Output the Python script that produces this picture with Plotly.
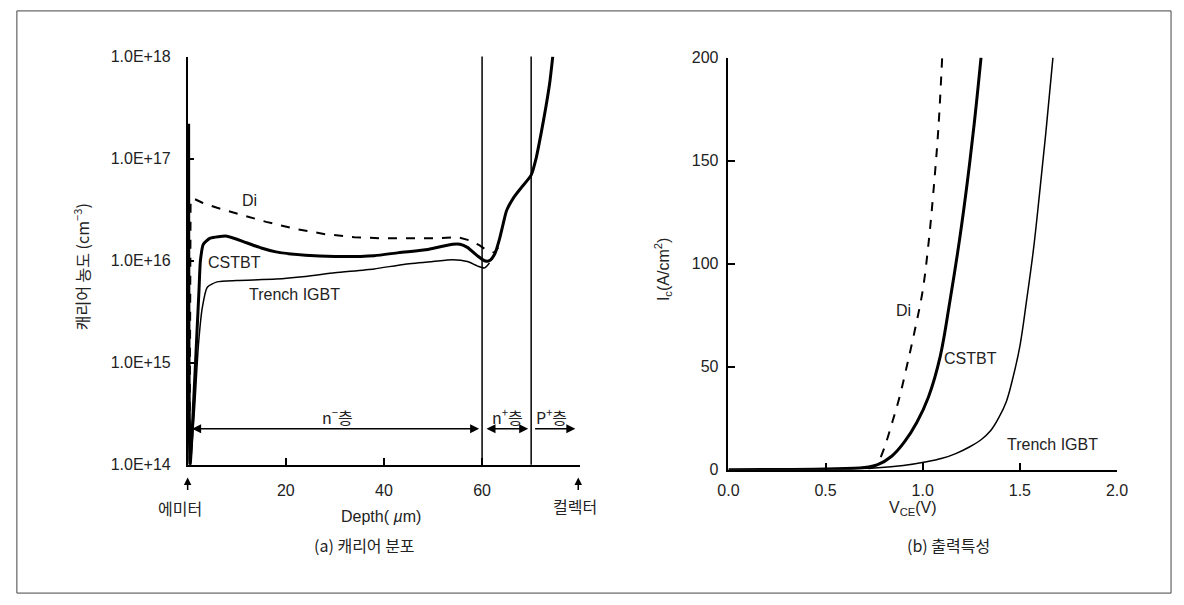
import plotly.graph_objects as go

W, H = 1184, 605
def px(x): return x / W
def py(y): return 1 - y / H

# ---- (a) carrier distribution data ----
depth_cstbt = [0.2, 0.5, 1.3, 1.9, 2.3, 2.6, 3.2, 4.6, 8, 12, 15, 18, 24, 30, 38, 43, 49, 54, 55.5, 57, 59, 60.5,
               61.5, 62.6, 63.5, 64.3, 65, 66.5, 68, 70, 71, 72, 73, 73.8, 74.4]
conc_cstbt = [2.2e17, 1.0e14, 5e14, 2e15, 5e15, 1.0e16, 1.45e16, 1.66e16, 1.74e16, 1.5e16, 1.33e16, 1.22e16,
              1.13e16, 1.1e16, 1.12e16, 1.2e16, 1.29e16, 1.45e16, 1.45e16, 1.35e16, 1.12e16, 1.0e16,
              1.0e16, 1.17e16, 1.6e16, 2.3e16, 3.1e16, 4.2e16, 5.2e16, 6.9e16, 1.0e17, 1.74e17, 3.2e17,
              5.6e17, 1.0e18]

depth_trench = [0.6, 1.4, 2.2, 3.0, 4.0, 6, 10, 18, 24, 30, 38, 44, 50, 54, 57, 59, 60.5, 61.5]
conc_trench = [1e14, 3.5e14, 1.5e15, 3.5e15, 5.5e15, 6.2e15, 6.4e15, 6.6e15, 7.0e15, 7.6e15, 8.3e15, 9.2e15,
               9.8e15, 1.02e16, 9.8e15, 8.9e15, 8.5e15, 9.5e15]

depth_di = [0.4, 0.6, 1.5, 3, 6, 10, 16, 22, 28, 34, 39, 45, 51, 55, 57.5, 59.5, 61, 62.5, 63.3]
conc_di = [1e14, 4e16, 4e16, 3.7e16, 3.3e16, 2.9e16, 2.4e16, 2.05e16, 1.82e16, 1.7e16, 1.66e16, 1.66e16,
           1.66e16, 1.7e16, 1.58e16, 1.41e16, 1.26e16, 1.2e16, 1.35e16]

conc_ticks = [1e14, 1e15, 1e16, 1e17, 1e18]
conc_ticktext = ["1.0E+14", "1.0E+15", "1.0E+16", "1.0E+17", "1.0E+18"]
depth_ticks = [20, 40, 60]
layer_bounds = [60, 70]

# ---- (b) output characteristics data ----
v_di = [0.72, 0.75, 0.77, 0.8, 0.84, 0.88, 0.92, 0.96, 1.0, 1.03, 1.055, 1.08, 1.10]
i_di = [0.5, 1.5, 3.5, 10, 22, 35, 51, 68, 87, 110, 135, 165, 200]

v_cstbt = [0, 0.5, 0.7, 0.768, 0.84, 0.904, 0.97, 1.03, 1.09, 1.141, 1.19, 1.23, 1.265, 1.30]
i_cstbt = [0, 0.3, 1, 2.4, 6.5, 13.2, 23, 35.4, 55, 82.5, 112, 140, 168, 200]

v_trench = [0, 0.5, 0.77, 0.9, 1.02, 1.1, 1.17, 1.24, 1.30, 1.35, 1.39, 1.43, 1.46, 1.50, 1.535, 1.57, 1.60,
            1.635, 1.67]
i_trench = [0, 0.2, 0.9, 2.0, 3.8, 5.5, 7.8, 11, 14.5, 19, 25, 33, 43, 60, 82.5, 107, 133, 165, 200]

FONT = "Liberation Sans, Arial, Noto Sans CJK KR"
KFONT = "Noto Sans CJK KR, Liberation Sans"
TC = "#222222"

fig = go.Figure()
fig.add_trace(go.Scatter(x=depth_di, y=conc_di, mode="lines", line=dict(color="black", width=2, dash="dash"),
                         xaxis="x", yaxis="y", hoverinfo="skip"))
fig.add_trace(go.Scatter(x=depth_trench, y=conc_trench, mode="lines",
                         line=dict(color="black", width=1.5, shape="spline", smoothing=0.6),
                         xaxis="x", yaxis="y"))
fig.add_trace(go.Scatter(x=depth_cstbt, y=conc_cstbt, mode="lines",
                         line=dict(color="black", width=3, shape="spline", smoothing=0.6),
                         xaxis="x", yaxis="y"))

fig.add_trace(go.Scatter(x=v_di, y=i_di, mode="lines", line=dict(color="black", width=2, dash="dash", shape="spline"),
                         xaxis="x2", yaxis="y2"))
fig.add_trace(go.Scatter(x=v_cstbt, y=i_cstbt, mode="lines", line=dict(color="black", width=3, shape="spline"),
                         xaxis="x2", yaxis="y2"))
fig.add_trace(go.Scatter(x=v_trench, y=i_trench, mode="lines", line=dict(color="black", width=1.5, shape="spline"),
                         xaxis="x2", yaxis="y2"))

axis_common = dict(showline=True, linecolor="black", linewidth=1.5, showgrid=False, zeroline=False,
                   ticks="inside", ticklen=7, tickcolor="black", tickwidth=1.5,
                   tickfont=dict(family=FONT, size=16, color=TC))

Y_TOP, Y_BOT = 50, 470
fig.update_layout(
    width=W, height=H, margin=dict(l=0, r=0, t=0, b=0),
    paper_bgcolor="white", plot_bgcolor="white", showlegend=False,
    xaxis=dict(domain=[px(180), px(580)], range=[0, 80], tickvals=depth_ticks, anchor="y",
               ticklabelstandoff=10, **axis_common),
    yaxis=dict(domain=[py(Y_BOT), py(Y_TOP)], type="log", range=[14, 18], tickvals=conc_ticks,
               ticktext=conc_ticktext, anchor="x", ticklabelstandoff=12, **axis_common),
    xaxis2=dict(domain=[px(731), px(1127)], range=[0, 2], tickvals=[0, 0.5, 1.0, 1.5, 2.0],
                tickformat=".1f", anchor="y2", ticklabelstandoff=5, **axis_common),
    yaxis2=dict(domain=[py(475), py(51)], range=[0, 200], tickvals=[0, 50, 100, 150, 200],
                anchor="x2", ticklabelstandoff=5, **axis_common),
)

shapes = [dict(type="rect", xref="paper", yref="paper", x0=px(6), x1=px(1182), y0=py(602), y1=py(3),
               line=dict(color="#444444", width=1))]
for b in layer_bounds:
    shapes.append(dict(type="line", xref="x", yref="y domain", x0=b, x1=b, y0=0, y1=1,
                       line=dict(color="black", width=1.5)))
fig.update_layout(shapes=shapes)

ann = []
def text(x, y, s, size=16, font=FONT, angle=0):
    ann.append(dict(x=px(x), y=py(y), xref="paper", yref="paper", text=s, showarrow=False,
                    font=dict(family=font, size=size, color=TC), textangle=angle,
                    xanchor="center", yanchor="middle"))

# layer arrows
arr_y = (Y_BOT - 433) / (Y_BOT - Y_TOP)
for x0, x1, side in [(0.6, 59.4, "end+start"), (60.6, 69.4, "end+start"), (70.5, 79.0, "end")]:
    ann.append(dict(x=x1, y=arr_y, xref="x", yref="y domain", ax=x0, ay=arr_y, axref="x", ayref="y domain",
                    text="", showarrow=True, arrowside=side, arrowhead=2, arrowsize=1.2, arrowwidth=1.5,
                    arrowcolor="black"))
text(333, 420, "n<sup>−</sup>층", 16, KFONT)
text(506, 420, "n<sup>+</sup>층", 16, KFONT)
text(551, 420, "P<sup>+</sup>층", 16, KFONT)

# emitter / collector arrows
for xv in [0, 79.6]:
    ann.append(dict(x=xv, y=py(483), xref="x", yref="paper", ax=0, ay=14, text="", showarrow=True,
                    arrowhead=2, arrowsize=1, arrowwidth=1.5, arrowcolor="black"))
text(172, 514, "에미터", 16, KFONT)
text(575, 512, "컬렉터", 16, KFONT)

# axis titles and captions
text(72, 266, "캐리어 농도 (cm<sup>−3</sup>)", 16, KFONT, -90)
text(377, 523, "Depth( <i>µ</i>m)", 16)
text(360, 553, "(a) 캐리어 분포", 16, KFONT)
text(665, 269, "I<sub>c</sub>(A/cm<sup>2</sup>)", 16, FONT, -90)
text(919, 515, "V<sub>CE</sub>(V)", 16)
text(955, 553, "(b) 출력특성", 16, KFONT)

# curve labels
text(243, 198, "Di", 16)
text(228, 262, "CSTBT", 16)
text(289, 295, "Trench IGBT", 16)
text(909, 311, "Di", 16)
text(978, 361, "CSTBT", 16)
text(1061, 449, "Trench IGBT", 16)

fig.update_layout(annotations=ann)
fig.write_html("out.html", config={"displayModeBar": False},
               post_script="document.body.style.margin='0';")
